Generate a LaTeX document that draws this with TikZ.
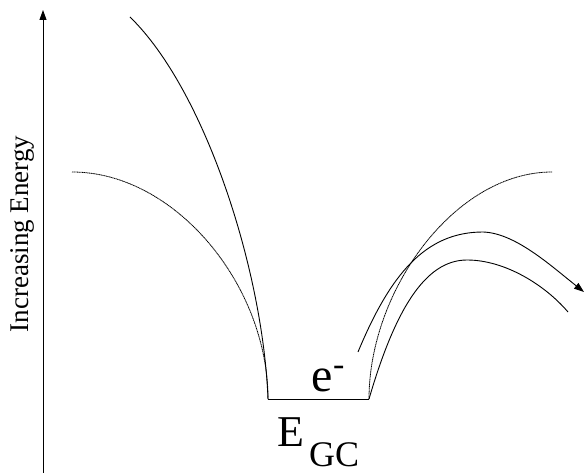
\documentclass[tikz,border=0pt]{standalone}
\usepackage{fontspec}
\setmainfont{Liberation Serif}
\usetikzlibrary{arrows.meta}
\tikzset{
  bandline/.style={line width=0.9pt},
  vacline/.style={line width=0.8pt,dash pattern=on 1.2pt off 0.5pt},
  tip/.style={-{Triangle[length=10pt,width=7pt]}},
}
\newcommand{\fsz}[1]{\fontsize{#1}{#1}\selectfont}

\begin{document}
\begin{tikzpicture}[x=1pt,y=-1pt]
  \useasboundingbox (0,0) rectangle (584,473);
  % --- Axe de l'énergie ---
  \coordinate (axbot) at (43,473);
  \coordinate (axtop) at (43,10);
  \draw[bandline,tip] (axbot) -- (axtop);
  \node[rotate=90,font=\fsz{27}] (axlab) at (22,234) {Increasing Energy};
  % --- Puits de potentiel ---
  \coordinate (wl) at (268,399);
  \coordinate (wr) at (369,399);
  \draw[bandline] (wl) -- (wr);
  % --- Courbes gauches ---
  \coordinate (ltop) at (130,17);
  \coordinate (lvac) at (72,172);
  \draw[bandline] (ltop) .. controls (205,90) and (263,270) .. (wl);
  \draw[vacline] (lvac) .. controls (175,172) and (268,285) .. (wl);
  % --- Courbes droites ---
  \coordinate (rvac) at (552,172);
  \coordinate (rout) at (358,352);
  \coordinate (routpk) at (483,232);
  \coordinate (routend) at (584,292);
  \coordinate (rinpk) at (467,260);
  \coordinate (rinend) at (568,312);
  \draw[vacline] (wr) .. controls (369,290) and (455,172) .. (rvac);
  \draw[bandline,tip] (rout) .. controls (390,275) and (425,232) .. (routpk)
    .. controls (515,233) and (550,265) .. (routend);
  \draw[bandline] (wr) .. controls (395,310) and (425,260) .. (rinpk)
    .. controls (505,260) and (545,285) .. (rinend);
  % --- Étiquettes ---
  \node[anchor=base west,inner sep=0pt,font=\fsz{48}] (elec) at (311.5,391)
    {e\raisebox{16pt}{\fsz{34}-}};
  \node[anchor=base west,inner sep=0pt,font=\fsz{44}] (egc) at (277.5,446) {E};
  \node[anchor=base west,inner sep=0pt,font=\fsz{36}] (gc) at (309,466) {GC};
\end{tikzpicture}
\end{document}
